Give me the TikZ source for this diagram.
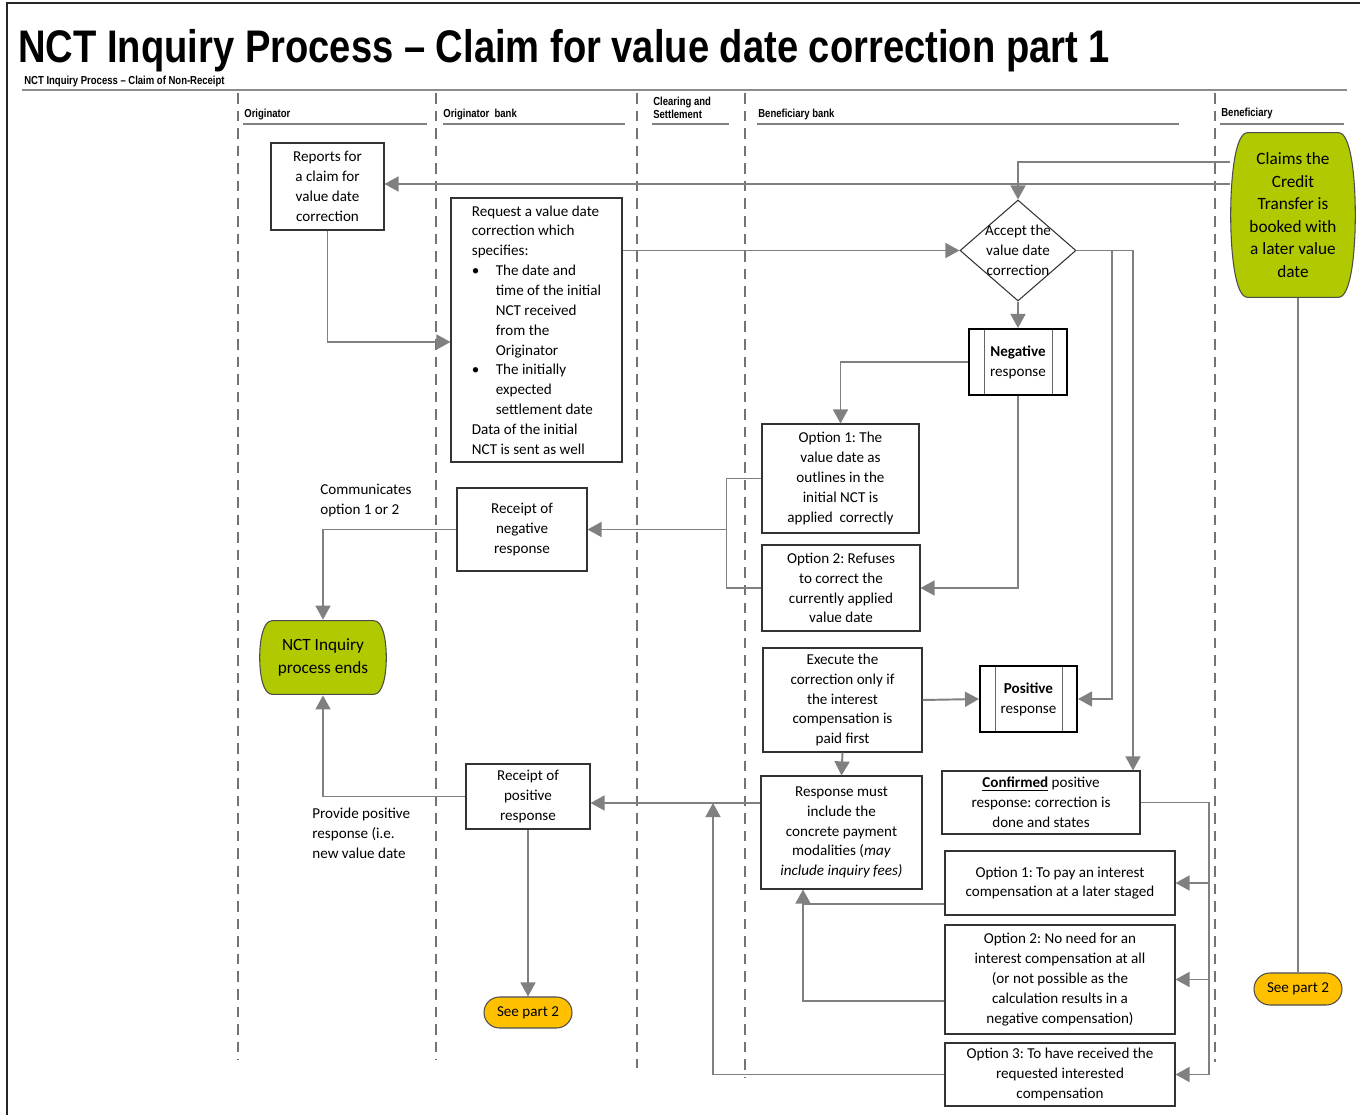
\documentclass[tikz,border=0pt]{standalone}
\usepackage{fontspec}
\usetikzlibrary{arrows.meta,shapes.geometric,shapes.misc,calc}
\newfontfamily\carlito{Carlito}
\newfontfamily\narrowfont[FakeStretch=0.82,Ligatures=TeX]{Liberation Sans}
\newfontfamily\titlefont[FakeStretch=0.835,Ligatures=TeX]{Liberation Sans}
\newcommand\pxu{0.02cm}
\newcommand\boxfont{\carlito\fontsize{8.6}{11.3}\selectfont}
\newcommand\bigboxfont{\carlito\fontsize{9.8}{12.8}\selectfont}
\newcommand\headfont{\narrowfont\bfseries\fontsize{6.6}{7.4}\selectfont}
\definecolor{conngray}{RGB}{128,128,128}
\definecolor{termgreen}{RGB}{176,201,0}
\definecolor{termyellow}{RGB}{255,192,0}
\frenchspacing

\begin{document}
\begin{tikzpicture}[x=0.02cm,y=-0.02cm,
  box/.style 2 args={draw=black!80,line width=0.6pt,inner sep=0pt,align=center,font=\boxfont,
    minimum width=#1*\pxu,minimum height=#2*\pxu},
  proc/.style 2 args={box={#1}{#2},draw=black,line width=1.1pt,
    path picture={\draw[line width=0.5pt,black!60]
      ([xshift=0.3cm]path picture bounding box.south west) -- ([xshift=0.3cm]path picture bounding box.north west)
      ([xshift=-0.3cm]path picture bounding box.south east) -- ([xshift=-0.3cm]path picture bounding box.north east);}},
  dec/.style={diamond,draw=black!80,line width=0.6pt,inner sep=0pt,minimum width=116*\pxu,minimum height=101*\pxu},
  barrel/.style 2 args={inner sep=0pt,align=center,
    path picture={
      \coordinate (tl) at ([shift={(0.4pt,-0.4pt)}]path picture bounding box.north west);
      \coordinate (br) at ([shift={(-0.4pt,0.4pt)}]path picture bounding box.south east);
      \draw[fill=#1,draw=black!70,line width=0.6pt]
        ([xshift=#2]tl) -- ([xshift=-#2]tl -| br)
        .. controls ([xshift=-0.3*#2]tl -| br) and ($(tl -| br)!0.25!(br)$) .. ($(tl -| br)!0.5!(br)$)
        .. controls ($(tl -| br)!0.75!(br)$) and ([xshift=-0.3*#2]br) .. ([xshift=-#2]br)
        -- ([xshift=#2]br -| tl)
        .. controls ([xshift=0.3*#2]br -| tl) and ($(tl)!0.75!(br -| tl)$) .. ($(tl)!0.5!(br -| tl)$)
        .. controls ($(tl)!0.25!(br -| tl)$) and ([xshift=0.3*#2]tl) .. cycle;}},
  term/.style 2 args={rounded rectangle,draw=black!70,line width=0.6pt,inner sep=0pt,align=center,
    fill=termyellow,font=\boxfont,minimum width=#1*\pxu,minimum height=#2*\pxu},
  conn/.style={draw=conngray,line width=1.1pt,-{Triangle[length=8pt,width=8.5pt]}},
  line/.style={draw=conngray,line width=1.1pt},
  lane/.style={draw=black!55,line width=0.6pt,dash pattern=on 6pt off 4pt},
  head/.style={anchor=base west,inner sep=0pt,font=\headfont,align=left},
  note/.style={anchor=north west,inner sep=0pt,font=\boxfont,align=left}]
\useasboundingbox (0,0) rectangle (1360,1115);
% frame and title
\draw[line width=1.3pt,black!85] (7,1115) -- (7,3) -- (1360,3);
\node[anchor=base west,inner sep=0pt,font=\titlefont\bfseries\fontsize{26}{30}\selectfont] (title) at (18,63)
  {NCT Inquiry Process -- Claim for value date correction part 1};
\node[head] (subtitle) at (24,85) {NCT Inquiry Process -- Claim of Non-Receipt};
\draw[line width=1pt,black!45] (22,90) -- (1347,90);
% lanes
\foreach \x/\y in {238/1060,436/1060,637/1068,745/1077,1215/1062}
  \draw[lane] (\x,93) -- (\x,\y);
\node[head] (hOrig) at (244,118) {Originator};
\node[head] (hOrigBank) at (443,118) {Originator~~bank};
\node[head] (hClear) at (653,119) {Clearing and\\Settlement};
\node[head] (hBenBank) at (758,118) {Beneficiary bank};
\node[head] (hBen) at (1221,117) {Beneficiary};
\foreach \a/\b in {243/427,443/625,652/729,757/1179,1220/1344}
  \draw[line width=0.9pt,black!50] (\a,124) -- (\b,124);

% nodes
\node[box={113}{87}] (rep) at (327.5,186.5) {Reports for\\a claim for\\value date\\correction};
\node[box={171}{264},align=left] (req) at (536.5,330) {Request a value date\\correction which\\specifies:\\
  \makebox[13.6pt][l]{\textbullet}The date and\\\hspace*{13.6pt}time of the initial\\\hspace*{13.6pt}NCT received\\
  \hspace*{13.6pt}from the\\\hspace*{13.6pt}Originator\\\makebox[13.6pt][l]{\textbullet}The initially\\
  \hspace*{13.6pt}expected\\\hspace*{13.6pt}settlement date\\Data of the initial\\NCT is sent as well};
\node[barrel={termgreen}{9.5pt},font=\bigboxfont,minimum width=126*\pxu,minimum height=166*\pxu] (claims) at (1293,215)
  {Claims the\\Credit\\Transfer is\\booked with\\a later value\\date};
\node[dec,label={[font=\boxfont,align=center]center:Accept the\\value date\\correction}] (dia) at (1018,250.5) {};
\node[proc={98}{66}] (neg) at (1018,362) {\textbf{Negative}\\response};
\node[box={157}{109}] (opt1n) at (840.5,478.5) {Option 1: The\\value date as\\outlines in the\\initial NCT is\\applied~~correctly};
\node[box={158}{86}] (opt2n) at (841,588) {Option 2: Refuses\\to correct the\\currently applied\\value date};
\node[box={130}{83}] (recneg) at (522,529.5) {Receipt of\\negative\\response};
\node[note] (comm) at (320,484) {Communicates\\option 1 or 2};
\node[barrel={termgreen}{7pt},font=\bigboxfont,minimum width=128*\pxu,minimum height=75*\pxu] (ends) at (323,657.5)
  {NCT Inquiry\\process ends};
\node[box={159}{104}] (exec) at (842.5,700) {Execute the\\correction only if\\the interest\\compensation is\\paid first};
\node[proc={97}{66}] (pos) at (1028.5,699) {\textbf{Positive}\\response};
\node[box={161}{113}] (resp) at (841.5,832.5) {Response must\\include the\\concrete payment\\modalities (\textit{may}\\\textit{include inquiry fees)}};
\node[box={198}{63}] (conf) at (1041,802.5) {\textbf{\underline{Confirmed}} positive\\response: correction is\\done and states};
\node[box={230}{64}] (o1p) at (1060,883) {Option 1: To pay an interest\\compensation at a later staged};
\node[box={230}{109}] (o2p) at (1060,979.5) {Option 2: No need for an\\interest compensation at all\\(or not possible as the\\calculation results in a\\negative compensation)};
\node[box={230}{63}] (o3p) at (1060,1074.5) {Option 3: To have received the\\requested interested\\compensation};
\node[box={124}{65}] (recpos) at (528,796.5) {Receipt of\\positive\\response};
\node[note] (prov) at (312,808) {Provide positive\\response (i.e.\\new value date};
\node[term={88}{31}] (see1) at (528,1012.5) {See part 2};
\node[term={88}{32}] (see2) at (1298,989) {See part 2};

% connectors
\draw[conn] (claims.west |- 0,162) -| (dia.north);
\draw[conn] (claims.west |- 0,184) -- (rep.east |- 0,184);
\draw[conn] (rep.south) |- (req.west |- 0,342);
\draw[conn] (req.east |- dia.west) -- (dia.west);
\draw[conn] (dia.south) -- (neg.north);
\draw[conn] (dia.east) -- ++(35,0) |- (pos.east);
\draw[conn] (dia.east) -| (conf.north -| 1133,0);
\draw[conn] (neg.west) -| (opt1n.north);
\draw[conn] (neg.south) |- (opt2n.east);
\draw[line] (opt1n.west) -- ++(-35,0) |- (opt2n.west);
\draw[conn] (recneg.east -| 727,0) -- (recneg.east);
\draw[conn] (recneg.west) -| (ends.north);
\draw[conn] (recpos.west) -| (ends.south);
\draw[conn] (exec.east) -- (pos.west);
\draw[conn] (exec.south) -- (resp.north);
\draw[conn] (resp.west |- 0,803) -- (recpos.east |- 0,803);
\draw[conn] (recpos.south) -- (see1.north);
\coordinate (bus) at (1209,0);
\draw[line] (conf.east) -| (bus |- o3p.east);
\foreach \o in {o1p,o2p,o3p}
  \draw[conn] (bus |- \o.east) -- (\o.east);
\coordinate (merge) at (803,904);
\draw[conn] (o1p.west |- merge) -| (resp.south -| merge);
\draw[line] (o2p.west |- 0,1001) -| (merge);
\coordinate (join) at (713,803);
\draw[conn] (o3p.west) -| (join);
\draw[line] (claims.south -| see2.north) -- (see2.north);
\end{tikzpicture}
\end{document}
